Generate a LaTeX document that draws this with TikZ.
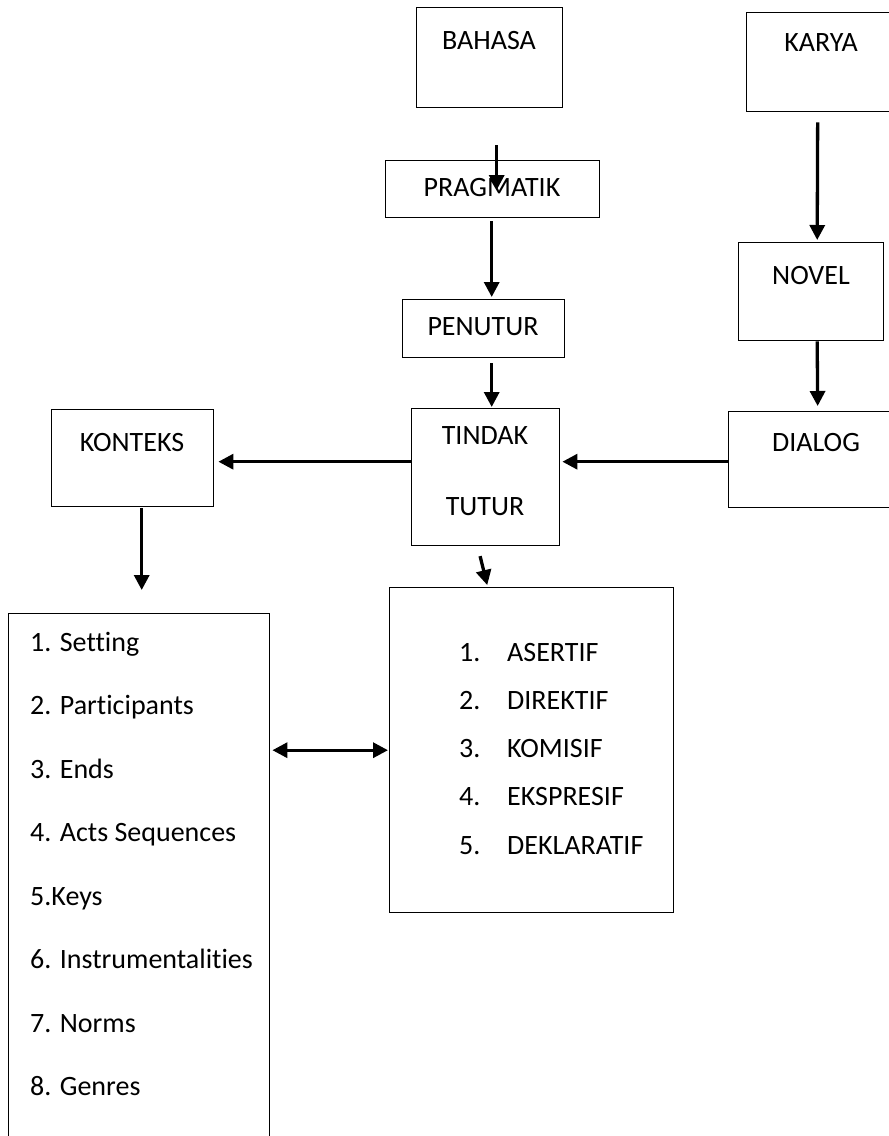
\documentclass[tikz,border=0pt]{standalone}
\usepackage{fontspec}
\setmainfont{Carlito}[Ligatures=NoCommon]
\usetikzlibrary{arrows.meta}
\tikzset{kotak/.style={draw, line width=1.4pt, inner sep=0pt, anchor=north west},
  tulisan/.style={inner sep=0pt, font=\fontsize{28}{34}\selectfont},
  panah/.style={line width=3.3pt},
  >={Triangle[length=15pt,width=15pt]}}

\begin{document}
\begin{tikzpicture}[x=1pt,y=-1pt]
\useasboundingbox (0,0) rectangle (889,1136);
% kotak-kotak
\node[kotak, minimum width=146pt, minimum height=100pt] (bahasa) at (416,7) {};
\node[tulisan] (tbahasa) at (489,41) {BAHASA};
\node[kotak, minimum width=150pt, minimum height=99pt] (karya) at (746,12) {};
\node[tulisan] (tkarya) at (821,43) {KARYA};
\node[kotak, minimum width=214pt, minimum height=57pt] (pragmatik) at (385,160) {};
\node[tulisan] (tpragmatik) at (492,188) {PRAGMATIK};
\node[kotak, minimum width=162pt, minimum height=58pt] (penutur) at (402,299) {};
\node[tulisan] (tpenutur) at (483,327) {PENUTUR};
\node[kotak, minimum width=145pt, minimum height=98pt] (novel) at (738,242) {};
\node[tulisan] (tnovel) at (811,276) {NOVEL};
\node[kotak, minimum width=148pt, minimum height=137pt] (tindak) at (411,408) {};
\node[tulisan] (ttindak) at (485,436) {TINDAK};
\node[tulisan] (ttutur) at (485,507) {TUTUR};
\node[kotak, minimum width=176pt, minimum height=96pt] (dialog) at (728,411) {};
\node[tulisan] (tdialog) at (816,443) {DIALOG};
\node[kotak, minimum width=162pt, minimum height=97pt] (konteks) at (51,409) {};
\node[tulisan] (tkonteks) at (132,443) {KONTEKS};
% daftar
\node[kotak, minimum width=261pt, minimum height=560pt] (komponen) at (8,613) {};
\foreach \isi [count=\i] in {1. Setting, 2. Participants, 3. Ends, 4. Acts Sequences,
  5.Keys, 6. Instrumentalities, 7. Norms, 8. Genres}
  \node[tulisan, anchor=base west] (k\i) at (30,{651+63.5*(\i-1)}) {\isi};
\node[kotak, minimum width=284pt, minimum height=325pt] (jenis) at (389,587) {};
\foreach \isi [count=\i] in {ASERTIF, DIREKTIF, KOMISIF, EKSPRESIF, DEKLARATIF}{
  \node[tulisan, anchor=base west] (n\i) at (459,{661+48.3*(\i-1)}) {\i.};
  \node[tulisan, anchor=base west] (j\i) at (507,{661+48.3*(\i-1)}) {\isi};
}
% panah
\draw[panah,->, shorten <=37pt, shorten >=-30pt] ([xshift=7pt]bahasa.south) -- ([xshift=4pt]pragmatik.north);
\draw[panah,->, shorten <=3pt, shorten >=2pt] ([xshift=-1pt]pragmatik.south) -- ([xshift=8pt]penutur.north);
\draw[panah,->, shorten <=5pt, shorten >=1pt] ([xshift=8pt]penutur.south) -- ([xshift=6pt]tindak.north);
\draw[panah,->, shorten <=10pt, shorten >=2pt] ([xshift=-4pt]karya.south) -- ([xshift=6pt]novel.north);
\draw[panah,->, shorten >=5pt] ([xshift=6pt]novel.south) -- ([xshift=1pt]dialog.north);
\draw[panah,->, shorten >=2pt] ([yshift=-2pt]dialog.west) -- ([yshift=-2pt]dialog.west -| tindak.east);
\draw[panah,->, shorten >=4pt] ([yshift=-3.5pt]konteks.east -| tindak.west) -- ([yshift=-3.5pt]konteks.east);
\draw[panah,->, shorten <=1pt, shorten >=23pt] ([xshift=9pt]konteks.south) -- ([xshift=9pt]konteks.south |- komponen.north);
\draw[panah,->, shorten <=10pt, shorten >=2pt] ([xshift=-8pt]tindak.south) -- ([xshift=-44pt]jenis.north);
\draw[panah,<->, shorten <=2pt, shorten >=1pt] (jenis.west -| komponen.east) -- (jenis.west);
\end{tikzpicture}
\end{document}
